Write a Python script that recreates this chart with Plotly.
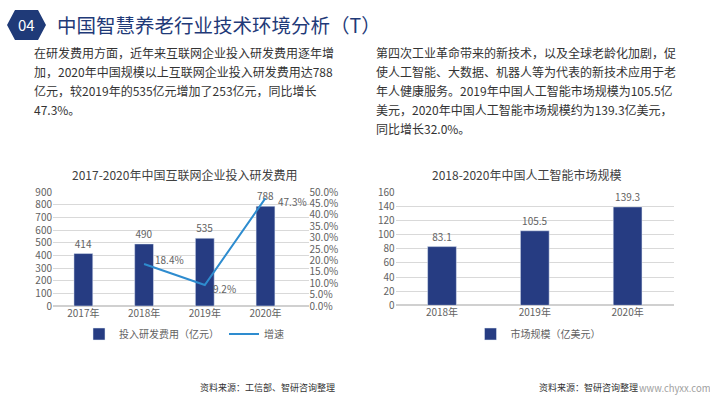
import plotly.graph_objects as go

W, H = 710, 399

# ---- data ----
rd_years = ["2017年", "2018年", "2019年", "2020年"]
rd_spend = [414, 490, 535, 788]
growth_years = ["2018年", "2019年", "2020年"]
growth_rate = [0.184, 0.092, 0.473]
ai_years = ["2018年", "2019年", "2020年"]
ai_market = [83.1, 105.5, 139.3]

page_title = "中国智慧养老行业技术环境分析（T）"
badge = "04"
left_text = [
    "在研发费用方面，近年来互联网企业投入研发费用逐年增",
    "加，2020年中国规模以上互联网企业投入研发费用达788",
    "亿元，较2019年的535亿元增加了253亿元，同比增长",
    "47.3%。",
]
right_text = [
    "第四次工业革命带来的新技术，以及全球老龄化加剧，促",
    "使人工智能、大数据、机器人等为代表的新技术应用于老",
    "年人健康服务。2019年中国人工智能市场规模为105.5亿",
    "美元，2020年中国人工智能市场规模约为139.3亿美元，",
    "同比增长32.0%。",
]
left_chart_title = "2017-2020年中国互联网企业投入研发费用"
right_chart_title = "2018-2020年中国人工智能市场规模"
left_source = "资料来源：工信部、智研咨询整理"
right_source = "资料来源：智研咨询整理"
site = "www.chyxx.com"

FONT = "Noto Sans CJK SC"
NAVY = "#263c82"
BLUE = "#2e8ccf"
GRAY = "#626262"
TXT = "#333333"


def px(x):
    return x / W


def py(y):
    return 1 - y / H


fig = go.Figure()

fig.add_trace(go.Bar(
    x=rd_years, y=rd_spend, name="投入研发费用（亿元）",
    marker_color=NAVY, text=[str(v) for v in rd_spend], textposition="outside",
    textfont=dict(size=10, color=GRAY, family=FONT), cliponaxis=False,
    xaxis="x", yaxis="y", legend="legend",
))
fig.add_trace(go.Scatter(
    x=growth_years, y=growth_rate, name="增速", mode="lines",
    line=dict(color=BLUE, width=2),
    xaxis="x", yaxis="y2", legend="legend", cliponaxis=False,
))
fig.add_trace(go.Bar(
    x=ai_years, y=ai_market, name="市场规模（亿美元）",
    marker_color=NAVY, text=[f"{v:.1f}" for v in ai_market], textposition="outside",
    textfont=dict(size=10, color=GRAY, family=FONT), cliponaxis=False,
    xaxis="x3", yaxis="y3", legend="legend2",
))

ydom = [py(306), py(192)]
tickfont = dict(size=10, color=GRAY, family=FONT)

anns = []
shifts = [(9, 5), (6, -3), (10, -3)]
for xv, yv, (dx, dy) in zip(growth_years, growth_rate, shifts):
    anns.append(dict(x=xv, y=yv, xref="x", yref="y2", text=f"{yv*100:.1f}%",
                     showarrow=False, xanchor="left", yanchor="middle",
                     xshift=dx, yshift=dy,
                     font=dict(size=10, color=GRAY, family=FONT)))
anns.append(dict(x=px(55), y=py(25), text=page_title, showarrow=False,
                 xanchor="left", yanchor="middle", xref="paper", yref="paper",
                 font=dict(size=19.5, color="#1f3a78", family=FONT)))
anns.append(dict(x=px(26.5), y=py(25), text=badge, showarrow=False,
                 xanchor="center", yanchor="middle", xref="paper", yref="paper",
                 font=dict(size=15, color="white", family=FONT)))
for i, t in enumerate(left_text):
    anns.append(dict(x=px(32), y=py(52 + i * 19.2), text=t, showarrow=False,
                     xanchor="left", yanchor="middle", xref="paper", yref="paper",
                     font=dict(size=12, color=TXT, family=FONT)))
for i, t in enumerate(right_text):
    anns.append(dict(x=px(374), y=py(52 + i * 19.2), text=t, showarrow=False,
                     xanchor="left", yanchor="middle", xref="paper", yref="paper",
                     font=dict(size=12, color=TXT, family=FONT)))
anns.append(dict(x=px(184), y=py(174), text=left_chart_title, showarrow=False,
                 xanchor="center", yanchor="middle", xref="paper", yref="paper",
                 font=dict(size=12, color="#404040", family=FONT)))
anns.append(dict(x=px(526), y=py(174), text=right_chart_title, showarrow=False,
                 xanchor="center", yanchor="middle", xref="paper", yref="paper",
                 font=dict(size=12, color="#404040", family=FONT)))
anns.append(dict(x=px(198), y=py(387), text=left_source, showarrow=False,
                 xanchor="left", yanchor="middle", xref="paper", yref="paper",
                 font=dict(size=9, color=TXT, family=FONT)))
anns.append(dict(x=px(537), y=py(387), text=right_source, showarrow=False,
                 xanchor="left", yanchor="middle", xref="paper", yref="paper",
                 font=dict(size=9, color=TXT, family=FONT)))
anns.append(dict(x=px(637), y=py(388), text=site, showarrow=False,
                 xanchor="left", yanchor="middle", xref="paper", yref="paper",
                 font=dict(size=9.5, color="#a0a0a0", family=FONT)))

hexpath = "M {} {} L {} {} L {} {} L {} {} L {} {} L {} {} Z".format(
    px(7), py(25), px(15), py(10), px(38), py(10),
    px(46), py(25), px(38), py(40), px(15), py(40))

fig.update_layout(
    width=W, height=H, margin=dict(l=0, r=0, t=0, b=0, autoexpand=False),
    paper_bgcolor="white", plot_bgcolor="white",
    font=dict(family=FONT, color=GRAY),
    bargap=0.69,
    xaxis=dict(domain=[px(53), px(308.5)], anchor="y", tickfont=tickfont,
               showline=False, ticks="", showgrid=False, automargin=False,
               categoryorder="array", categoryarray=rd_years),
    yaxis=dict(domain=ydom, range=[0, 900], dtick=100, tickfont=tickfont,
               gridcolor="#d9d9d9", gridwidth=1, zeroline=True, automargin=False,
               zerolinecolor="#d0d0d0", ticks="", anchor="x"),
    yaxis2=dict(overlaying="y", side="right", range=[0, 0.5], dtick=0.05,
                tickformat=".1%", tickfont=tickfont, showgrid=False,
                zeroline=False, anchor="x", automargin=False),
    xaxis3=dict(domain=[px(395.6), px(674)], anchor="y3", tickfont=tickfont,
                showgrid=False, ticks="", automargin=False),
    yaxis3=dict(domain=[py(305.3), py(192.3)], range=[0, 160], dtick=20,
                tickfont=tickfont, gridcolor="#d9d9d9", zeroline=True,
                zerolinecolor="#d0d0d0", ticks="", anchor="x3", automargin=False),
    legend=dict(orientation="h", x=px(184), y=py(334), xanchor="center",
                yanchor="middle", font=dict(size=10, color=GRAY, family=FONT),
                bgcolor="rgba(0,0,0,0)", itemwidth=30),
    legend2=dict(orientation="h", x=px(538), y=py(334), xanchor="center",
                 yanchor="middle", font=dict(size=10, color=GRAY, family=FONT),
                 bgcolor="rgba(0,0,0,0)", itemwidth=30),
    annotations=anns,
    shapes=[dict(type="path", path=hexpath, xref="paper", yref="paper",
                 fillcolor="#1f3a78", line=dict(width=0))],
)

post = (
    "document.documentElement.style.margin='0';"
    "document.documentElement.style.overflow='hidden';"
    "document.body.style.margin='0';"
    "document.body.style.overflow='hidden';"
    "var d=document.getElementById('{plot_id}');"
    "d.style.position='fixed';d.style.top='0px';d.style.left='0px';"
)
fig.write_html("out.html", post_script=post,
               config={"displayModeBar": False})
